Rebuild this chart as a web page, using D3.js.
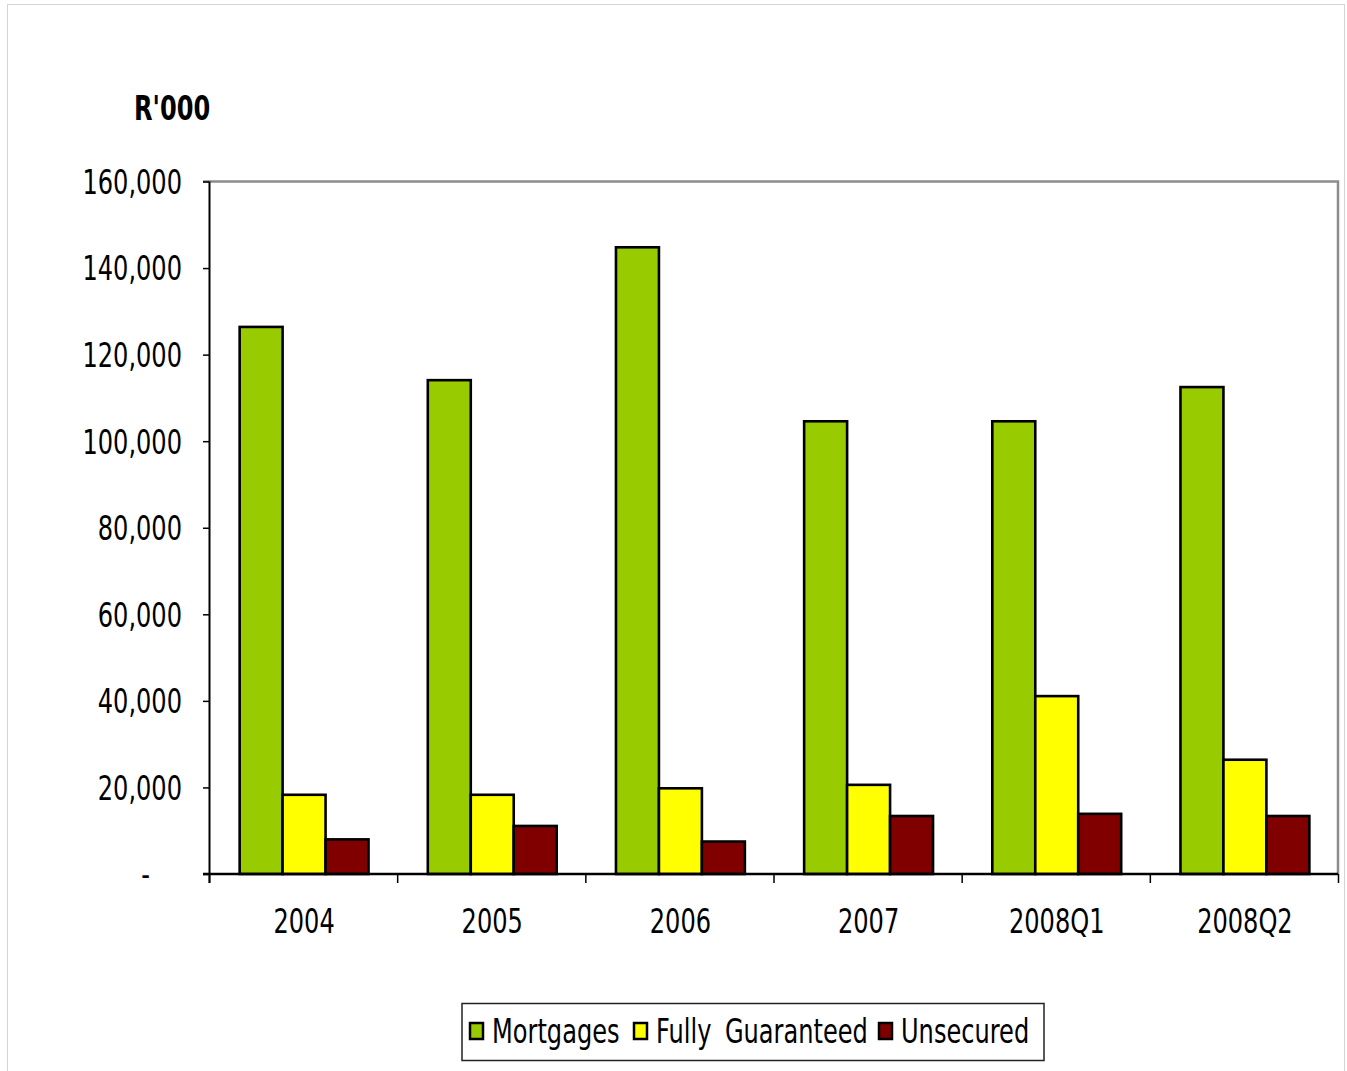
<!DOCTYPE html>
<html>
<head>
<meta charset="utf-8">
<script src="https://cdn.jsdelivr.net/npm/d3@7"></script>
<style>
  body { margin: 0; background: #fff; }
  svg { display: block; }
  text { font-family: "DejaVu Sans", sans-serif; fill: #000; }
</style>
</head>
<body>
<svg id="chart" width="1347" height="1071"></svg>
<script>
// Loan book by security type, R'000
const categories = ["2004", "2005", "2006", "2007", "2008Q1", "2008Q2"];
const seriesNames = ["Mortgages", "Fully Guaranteed", "Unsecured"];
const mortgages = [126400, 114100, 144800, 104600, 104600, 112500];
const fullyGuaranteed = [18300, 18300, 19800, 20600, 41100, 26400];
const unsecured = [8000, 11100, 7500, 13400, 13900, 13400];
const yTickValues = [0, 20000, 40000, 60000, 80000, 100000, 120000, 140000, 160000];

const seriesValues = [mortgages, fullyGuaranteed, unsecured];
const colors = ["#99CC00", "#FFFF00", "#800000"];

const SX = 0.73;          // narrow glyph width used throughout
const FS = 33;            // base font size

const svg = d3.select("#chart");

const plot = { left: 209, right: 1338, top: 181.5, bottom: 874 };

// outer chart frame
svg.append("rect")
  .attr("x", 7.5).attr("y", 4.5)
  .attr("width", 1337).attr("height", 1080)
  .attr("fill", "none").attr("stroke", "#d4d4d4").attr("stroke-width", 1);

const x0 = d3.scaleBand().domain(categories).range([plot.left, plot.right]).padding(0);
const x1 = d3.scaleBand().domain(seriesNames).range([1, x0.bandwidth() + 1])
  .paddingInner(0).paddingOuter(0.69);
const y = d3.scaleLinear().domain([0, 160000]).range([plot.bottom, plot.top]);

// plot frame: grey top and right edges
svg.append("path")
  .attr("d", `M${plot.left - 6},${plot.top}H${plot.right}V${plot.bottom}`)
  .attr("fill", "none").attr("stroke", "#8c8c8c").attr("stroke-width", 2.5);

// bars
const rows = categories.map((c, i) => ({ cat: c, vals: seriesNames.map((s, j) => ({ s, j, v: seriesValues[j][i] })) }));
const groups = svg.append("g").selectAll("g").data(rows).join("g")
  .attr("transform", d => `translate(${x0(d.cat)},0)`);
groups.selectAll("rect").data(d => d.vals).join("rect")
  .attr("x", d => x1(d.s))
  .attr("y", d => y(d.v))
  .attr("width", x1.bandwidth())
  .attr("height", d => y(0) - y(d.v))
  .attr("fill", d => colors[d.j])
  .attr("stroke", "#000")
  .attr("stroke-width", 2.6);

// y axis
const yAxis = svg.append("g")
  .attr("transform", `translate(${plot.left},0)`)
  .call(d3.axisLeft(y).tickValues(yTickValues).tickSize(6).tickSizeOuter(0)
    .tickFormat(d => d === 0 ? "-" : d3.format(",")(d)));
yAxis.select(".domain").attr("stroke", "#000").attr("stroke-width", 2)
  .attr("d", `M0.5,${plot.top}V${plot.bottom + 9}`);
yAxis.selectAll(".tick line").attr("stroke", "#000").attr("stroke-width", 1.5);
yAxis.selectAll(".tick text")
  .attr("x", d => d === 0 ? -59 / SX : -27 / SX)
  .attr("dy", "0.36em")
  .attr("transform", `scale(${SX},1)`)
  .style("font-size", FS + "px")
  .style("font-family", '"DejaVu Sans", sans-serif')
  .attr("fill", "#000");

// x axis
const xAxis = svg.append("g")
  .attr("transform", `translate(0,${plot.bottom})`)
  .call(d3.axisBottom(x0).tickSize(0).tickSizeOuter(0));
xAxis.select(".domain").attr("stroke", "#000").attr("stroke-width", 2.5)
  .attr("d", `M${plot.left - 6},0H${plot.right}`);
xAxis.selectAll(".tick text")
  .attr("y", 0).attr("dy", 0)
  .attr("transform", `translate(1,59) scale(${SX},1)`)
  .style("font-size", FS + "px")
  .style("font-family", '"DejaVu Sans", sans-serif')
  .attr("fill", "#000");
// category boundary ticks
const boundaries = categories.map(c => x0(c)).concat([plot.right]);
xAxis.selectAll("line.bound").data(boundaries).join("line")
  .attr("class", "bound")
  .attr("x1", d => d + 0.5).attr("x2", d => d + 0.5)
  .attr("y1", 0).attr("y2", 9)
  .attr("stroke", "#000").attr("stroke-width", 1.5);

// unit label
svg.append("text")
  .attr("transform", `translate(134,120) scale(${SX},1)`)
  .style("font-size", FS + "px")
  .style("font-weight", "bold")
  .text("R'000");

// legend
const legend = svg.append("g");
legend.append("rect")
  .attr("x", 462).attr("y", 1003.5).attr("width", 582).attr("height", 57)
  .attr("fill", "#fff").attr("stroke", "#222").attr("stroke-width", 1.5);
const legendX = [470, 634, 879];
const items = legend.selectAll("g.item").data(seriesNames).join("g")
  .attr("class", "item")
  .attr("transform", (d, i) => `translate(${legendX[i]},0)`);
items.append("rect")
  .attr("x", 0).attr("y", 1023).attr("width", 13).attr("height", 16)
  .attr("fill", (d, i) => colors[i]).attr("stroke", "#000").attr("stroke-width", 2.5);
items.append("text")
  .attr("transform", `translate(22,1043) scale(${SX},1)`)
  .style("font-size", FS + "px")
  .style("word-spacing", "8px")
  .text(d => d);
</script>
</body>
</html>
